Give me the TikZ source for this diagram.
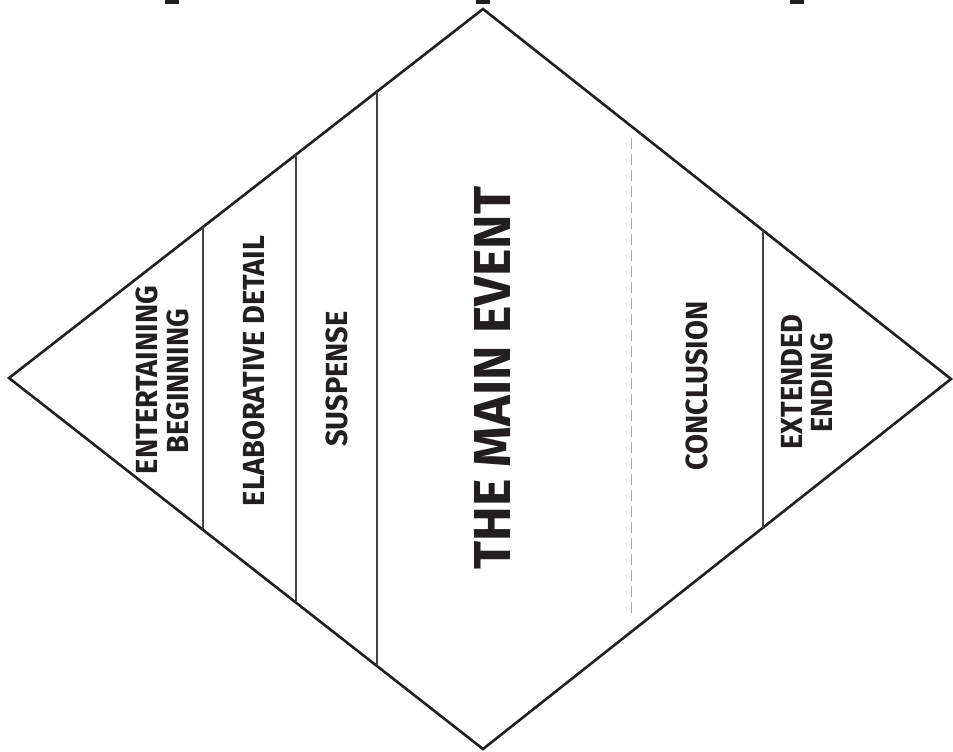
\documentclass[tikz,border=0pt]{standalone}
\usepackage{fontspec}
\setmainfont{Fira Sans}
\newfontfamily\labfont{Fira Sans}[FakeStretch=0.95]
\begin{document}
\begin{tikzpicture}[x=1pt,y=-1pt,
  outline/.style={draw=ink,line width=2.6pt,line join=miter},
  divider/.style={draw=ink!85,line width=1.3pt},
  dashdiv/.style={draw=black!35,line width=1pt,dash pattern=on 11pt off 5pt},
  lab/.style={text=ink,font=\labfont\bfseries\fontsize{30.5}{32}\selectfont,rotate=90,anchor=base,inner sep=0pt},
  biglab/.style={text=ink,font=\bfseries\fontsize{52}{54}\selectfont,rotate=90,anchor=base,inner sep=0pt},
  bar/.style={fill=ink,draw=none}]
\definecolor{ink}{HTML}{231F20}
\useasboundingbox (0,0) rectangle (953,752);
% top bars
\fill[bar] (165,0) rectangle (179,4);
\fill[bar] (476,0) rectangle (490,4);
\fill[bar] (790,0) rectangle (804,4);
% diamond
\coordinate (T) at (483,9);
\coordinate (L) at (9,378);
\coordinate (R) at (951,379);
\coordinate (B) at (483,749);
\draw[outline] (T) -- (R) -- (B) -- (L) -- cycle;
% dividers
\draw[divider] (203,227) -- (203,529);
\draw[divider] (296,154.6) -- (296,601.4);
\draw[divider] (377,91.5) -- (377,664.5);
\draw[divider] (763,229.9) -- (763,528);
\draw[dashdiv] (631,138) -- (631,615);
% labels
\node[lab] (eb1) at (157,380) {ENTERTAINING};
\node[lab] (eb2) at (188,381) {BEGINNING};
\node[lab] (ed) at (264,371) {ELABORATIVE DETAIL};
\node[lab] (su) at (347,379) {SUSPENSE};
\node[biglab] (me) at (510,378) {THE MAIN EVENT};
\node[lab] (co) at (707,386) {CONCLUSION};
\node[lab] (ee1) at (802,382) {EXTENDED};
\node[lab] (ee2) at (832,383) {ENDING};
\end{tikzpicture}
\end{document}
